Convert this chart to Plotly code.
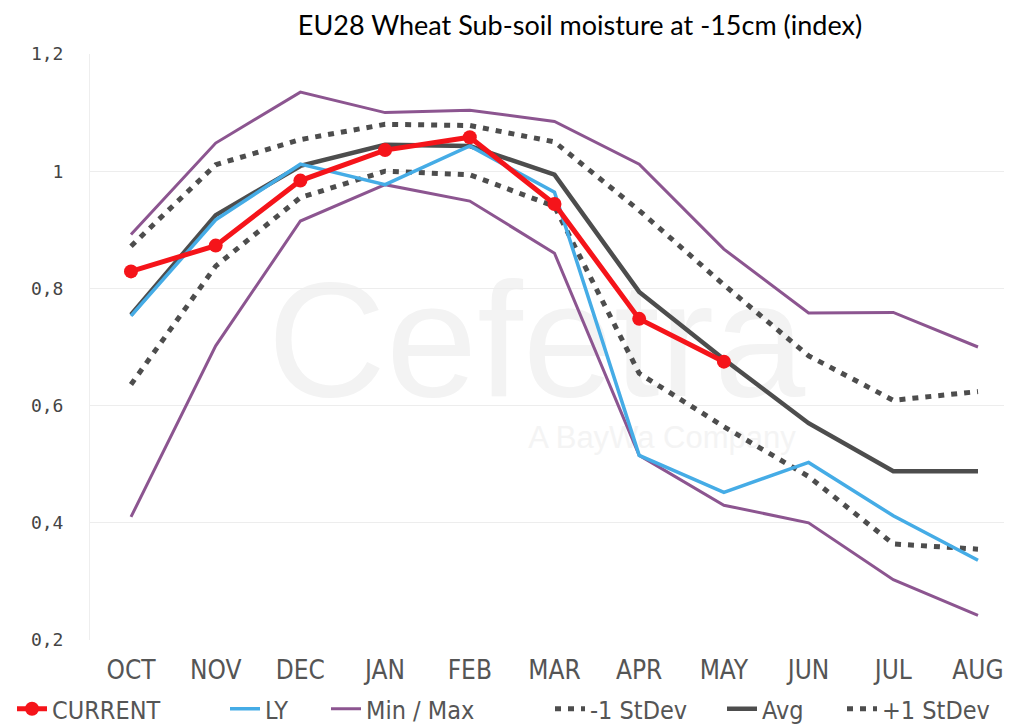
import plotly.graph_objects as go

### data
months = ["OCT", "NOV", "DEC", "JAN", "FEB", "MAR", "APR", "MAY", "JUN", "JUL", "AUG"]
current = [0.829, 0.873, 0.984, 1.036, 1.058, 0.944, 0.748, 0.675, None, None, None]
last_year = [0.753, 0.917, 1.012, 0.977, 1.043, 0.964, 0.515, 0.452, 0.503, 0.412, 0.336]
avg = [0.755, 0.925, 1.009, 1.045, 1.043, 0.994, 0.794, 0.679, 0.570, 0.488, 0.488]
min_vals = [0.410, 0.702, 0.915, 0.977, 0.949, 0.860, 0.515, 0.430, 0.400, 0.303, 0.242]
max_vals = [0.892, 1.048, 1.135, 1.100, 1.104, 1.085, 1.012, 0.867, 0.758, 0.759, 0.700]
sd_minus = [0.636, 0.838, 0.955, 1.000, 0.994, 0.940, 0.655, 0.564, 0.479, 0.364, 0.355]
sd_plus = [0.872, 1.011, 1.054, 1.080, 1.078, 1.050, 0.933, 0.806, 0.685, 0.609, 0.624]

RED = "#f5141a"
BLUE = "#45ace6"
PURPLE = "#8c5590"
GREY = "#4d4d4d"
narrow = "Liberation Sans Narrow, DejaVu Sans Condensed, Roboto Condensed, Roboto"
DOTS = "6px,7px"

fig = go.Figure()

# one legend box per entry so the items can sit where the reference has them
fig.add_trace(go.Scatter(x=months, y=max_vals, mode="lines", name="Min / Max",
                         line=dict(color=PURPLE, width=3), legend="legend3"))
fig.add_trace(go.Scatter(x=months, y=min_vals, mode="lines", name="Min / Max",
                         line=dict(color=PURPLE, width=3), showlegend=False))
fig.add_trace(go.Scatter(x=months, y=sd_plus, mode="lines", name="+1 StDev",
                         line=dict(color=GREY, width=5, dash=DOTS), legend="legend6"))
fig.add_trace(go.Scatter(x=months, y=sd_minus, mode="lines", name="-1 StDev",
                         line=dict(color=GREY, width=5, dash=DOTS), legend="legend4"))
fig.add_trace(go.Scatter(x=months, y=avg, mode="lines", name="Avg",
                         line=dict(color=GREY, width=4.5), legend="legend5"))
fig.add_trace(go.Scatter(x=months, y=last_year, mode="lines", name="LY",
                         line=dict(color=BLUE, width=3.5), legend="legend2"))
fig.add_trace(go.Scatter(x=months, y=current, mode="lines+markers", name="CURRENT",
                         line=dict(color=RED, width=5), marker=dict(color=RED, size=14),
                         legend="legend"))

# faint watermark behind the lines
fig.add_shape(type="rect", xref="x domain", yref="y domain", x0=0.2, x1=0.76, y0=0.44, y1=0.64,
              line=dict(width=0), fillcolor="rgba(0,0,0,0)", layer="below",
              label=dict(text="Cefetra", textposition="middle center",
                         font=dict(family="Liberation Sans", size=164, color="#f3f3f3")))
fig.add_shape(type="rect", xref="x domain", yref="y domain", x0=0.45, x1=0.78, y0=0.31, y1=0.39,
              line=dict(width=0), fillcolor="rgba(0,0,0,0)", layer="below",
              label=dict(text="A BayWa Company", textposition="middle center",
                         font=dict(family="Liberation Sans", size=31, color="#f4f4f4")))

leg_font = dict(family=narrow, size=25, color="#555555")
leg_x = [4, 217, 318, 542, 714, 834]
legends = {}
for i, px_x in enumerate(leg_x):
    key = "legend" if i == 0 else "legend%d" % (i + 1)
    legends[key] = dict(orientation="h", xref="container", x=px_x / 1012, xanchor="left",
                        yref="container", y=1 - 701 / 728, yanchor="middle",
                        font=leg_font, bgcolor="rgba(0,0,0,0)", borderwidth=0)

fig.update_layout(
    width=1012, height=728,
    paper_bgcolor="white",
    plot_bgcolor="rgba(0,0,0,0)",
    separators=",.",
    title=dict(text="EU28 Wheat Sub-soil moisture at -15cm (index)", x=572 / 1012, xanchor="center",
               y=1 - 18 / 728, yanchor="middle",
               font=dict(family="Lato", size=27, color="black")),
    margin=dict(l=82, r=0, t=46, b=96),
    showlegend=True,
    **legends,
    xaxis=dict(type="category", range=[-0.484, 10.496], showgrid=False, zeroline=False,
               ticks="outside", ticklen=7, tickcolor="rgba(0,0,0,0)", automargin=False,
               tickfont=dict(family=narrow, size=26, color="#555555")),
    yaxis=dict(range=[0.2, 1.2], dtick=0.2, showgrid=True, gridcolor="#ededed", gridwidth=1,
               zeroline=False, showline=True, linecolor="#eeeeee", linewidth=1,
               ticks="outside", ticklen=22, tickcolor="rgba(0,0,0,0)", automargin=False,
               tickfont=dict(family="DejaVu Sans Mono", size=18, color="#444444")),
)

fig.write_html("out.html")
